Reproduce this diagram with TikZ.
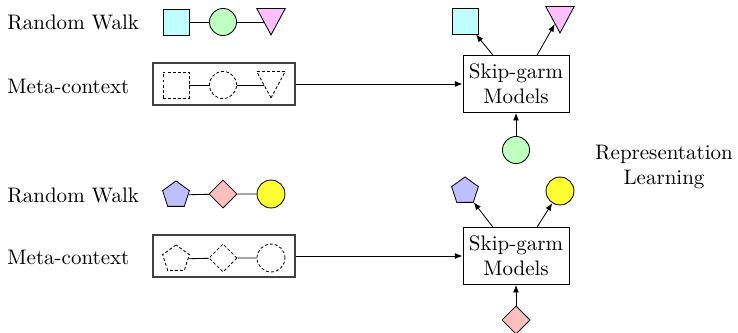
\documentclass[tikz,border=0pt]{standalone}
\usetikzlibrary{shapes.geometric,arrows.meta,backgrounds}
\definecolor{sqfill}{rgb}{0.75,1,1}
\definecolor{cifill}{rgb}{0.75,1,0.75}
\definecolor{trfill}{rgb}{1,0.75,1}
\definecolor{pefill}{rgb}{0.75,0.75,1}
\definecolor{difill}{rgb}{1,0.75,0.75}
\definecolor{yefill}{rgb}{1,1,0.2}
\tikzset{
  sq/.style={rectangle, draw, minimum size=12.4pt, inner sep=0pt},
  ci/.style={circle, draw, minimum size=12.9pt, inner sep=0pt},
  tri/.style={isosceles triangle, isosceles triangle stretches, shape border rotate=270,
              draw, minimum width=13.6pt, minimum height=12.6pt, inner sep=0pt},
  pent/.style={regular polygon, regular polygon sides=5, draw, minimum size=13.4pt, inner sep=0pt},
  dia/.style={diamond, draw, minimum width=13.4pt, minimum height=13.4pt, inner sep=0pt},
  ghost/.style={dash pattern=on 1.4pt off 1pt, fill=white},
  metabox/.style={rectangle, draw=black!75, line width=0.6pt, minimum width=67.6pt, minimum height=20pt},
  skipbox/.style={rectangle, draw, align=center, minimum width=50.5pt, minimum height=27.1pt, inner sep=2pt},
  lbl/.style={anchor=base west, inner sep=0pt},
  arr/.style={-{Latex[length=3.6pt,width=2.8pt]}},
}
\begin{document}
\begin{tikzpicture}[x=0.476pt, y=-0.476pt]
\useasboundingbox (0,0) rectangle (738,332);

% ---------- first walk ----------
\node[lbl] (rw1) at (7,30) {Random Walk};
\node[lbl] (mc1) at (7,93) {Meta-context};

\node[sq, fill=sqfill] (a1) at (176,22) {};
\node[ci, fill=cifill] (b1) at (223,22) {};
\node[tri, fill=trfill, anchor=apex] (c1) at (271,36) {};

\node[metabox] (m1) at (224,84) {};
\node[sq, ghost] (ma1) at (176,85) {};
\node[ci, ghost] (mb1) at (223,85) {};
\node[tri, ghost, anchor=apex] (mc1t) at (271,99) {};

\node[skipbox] (s1) at (516,84) {Skip-garm\\Models};
\node[sq, fill=sqfill] (oa1) at (465,21) {};
\node[tri, fill=trfill, anchor=apex] (oc1) at (560,34) {};
\node[ci, fill=cifill] (ob1) at (516,150) {};

% ---------- second walk ----------
\node[lbl] (rw2) at (7,202) {Random Walk};
\node[lbl] (mc2) at (7,264) {Meta-context};

\node[pent, fill=pefill] (a2) at (176,195) {};
\node[dia, fill=difill] (b2) at (223,194) {};
\node[ci, fill=yefill, minimum size=13.3pt] (c2) at (271,194) {};

\node[metabox] (m2) at (224,256) {};
\node[pent, ghost] (ma2) at (176,259) {};
\node[dia, ghost] (mb2) at (223,258) {};
\node[ci, ghost, minimum size=13.3pt] (mc2c) at (271,258) {};

\node[skipbox] (s2) at (516,256) {Skip-garm\\Models};
\node[pent, fill=pefill] (oa2) at (465,191) {};
\node[ci, fill=yefill, minimum size=13.3pt] (oc2) at (560,191) {};
\node[dia, fill=difill] (ob2) at (516,320) {};

\node[align=center] (rl) at (664,167) {Representation\\Learning};

% ---------- connectors ----------
\begin{pgfonlayer}{background}
  \draw (a1) -- (b1);
  \draw (b1.east) -- (b1.east -| c1.apex);
  \draw (ma1) -- (mb1);
  \draw (mb1.east) -- (mb1.east -| mc1t.apex);
  \draw (a2) -- (b2) -- (c2);
  \draw (ma2) -- (mb2) -- (mc2c);
\end{pgfonlayer}

\draw[arr] (m1.east) -- (s1.west);
\draw[arr] ([xshift=-11pt]s1.north) -- (oa1);
\draw[arr] ([xshift=10pt]s1.north) -- (oc1);
\draw[arr] (ob1) -- (s1.south);

\draw[arr] (m2.east) -- (s2.west);
\draw[arr] ([xshift=-11pt]s2.north) -- (oa2);
\draw[arr] ([xshift=10pt]s2.north) -- (oc2);
\draw[arr] (ob2) -- (s2.south);
\end{tikzpicture}
\end{document}
